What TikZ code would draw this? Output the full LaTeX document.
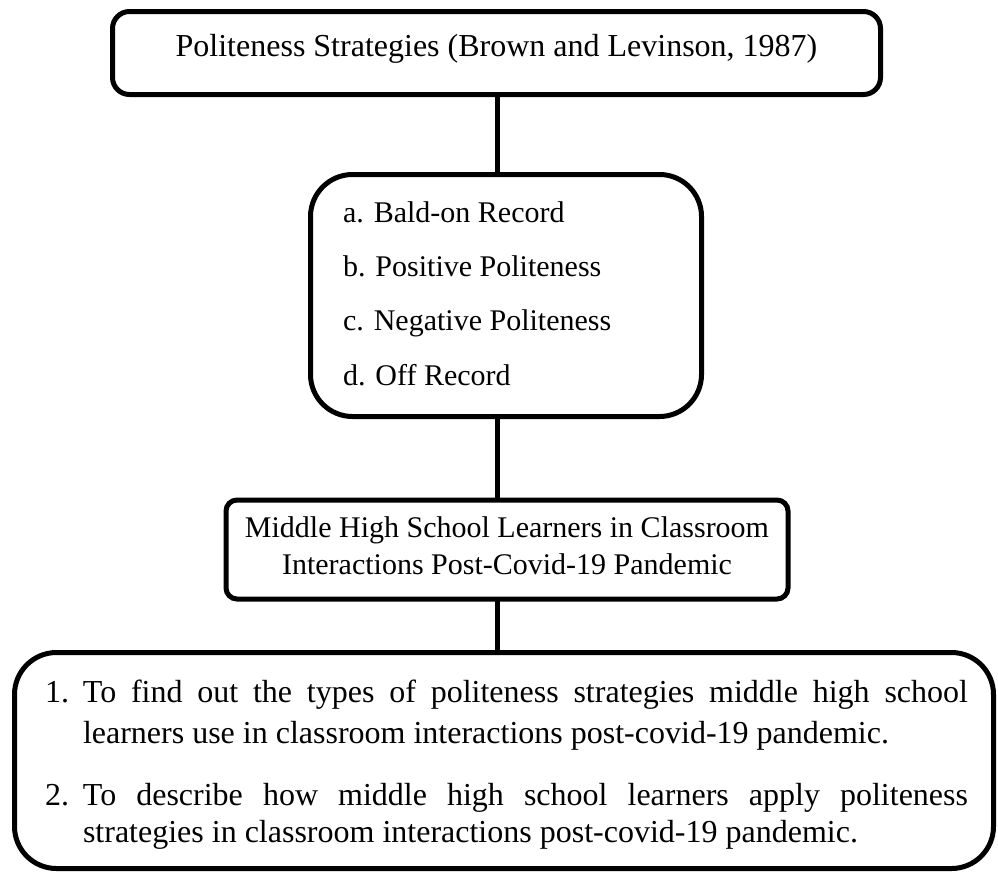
\documentclass[tikz,border=0pt]{standalone}
\usepackage{fontspec}
\setmainfont{Liberation Serif}
\begin{document}
\begin{tikzpicture}[x=1pt,y=-1pt,
  box/.style={draw, line width=5pt, inner sep=0pt, outer sep=0pt},
  txt/.style={inner sep=0pt, outer sep=0pt},
  link/.style={line width=5pt},
  bigfont/.style={font=\fontsize{32}{38}\selectfont},
  midfont/.style={font=\fontsize{30}{36}\selectfont},
]
\useasboundingbox (0,0) rectangle (998,873);
% boxes
\node[box, rounded corners=17pt, minimum width=768pt, minimum height=83pt] (top) at (496.5,53) {};
\node[box, rounded corners=42pt, minimum width=391pt, minimum height=242pt] (mid) at (506,295.5) {};
\node[box, rounded corners=11pt, minimum width=562pt, minimum height=99pt] (learn) at (507,549.5) {};
\node[box, rounded corners=42pt, minimum width=979pt, minimum height=216pt] (obj) at (504,760.5) {};
% texts
\node[txt, bigfont, anchor=base] (toptxt) at (496.5,56) {Politeness Strategies (Brown and Levinson, 1987)};
\node[txt, midfont, anchor=base west] (ia) at (343,222) {a. Bald-on Record};
\node[txt, midfont, anchor=base west] (ib) at (343,276) {b. Positive Politeness};
\node[txt, midfont, anchor=base west] (ic) at (343,330) {c. Negative Politeness};
\node[txt, midfont, anchor=base west] (id) at (343,385) {d. Off Record};
\node[txt, midfont, anchor=base] (l1) at (507,537) {Middle High School Learners in Classroom};
\node[txt, midfont, anchor=base] (l2) at (507,574) {Interactions Post-Covid-19 Pandemic};
\node[txt, bigfont, anchor=base west] (o1a) at (45,702) {\makebox[38pt][l]{1.}\makebox[885pt][s]{To find out the types of politeness strategies middle high school}};
\node[txt, bigfont, anchor=base west] (o1b) at (83,743) {learners use in classroom interactions post-covid-19 pandemic.};
\node[txt, bigfont, anchor=base west] (o2a) at (45,805) {\makebox[38pt][l]{2.}\makebox[885pt][s]{To describe how middle high school learners apply politeness}};
\node[txt, bigfont, anchor=base west] (o2b) at (83,842) {strategies in classroom interactions post-covid-19 pandemic.};
% connectors
\coordinate (cx) at (497,0);
\draw[link] (top.south -| cx) -- (mid.north -| cx);
\draw[link] (mid.south -| cx) -- (learn.north -| cx);
\draw[link] (learn.south -| cx) -- (obj.north -| cx);
\end{tikzpicture}
\end{document}
